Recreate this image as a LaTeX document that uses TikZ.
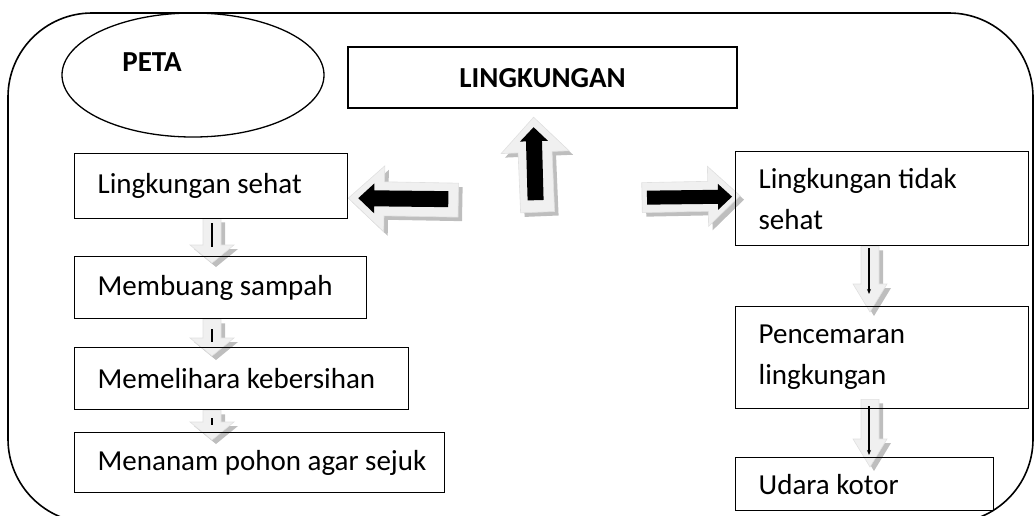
\documentclass[tikz,border=0pt]{standalone}
\usepackage{fontspec}
\setmainfont{Carlito}
\usetikzlibrary{calc,shapes.geometric,arrows.meta,backgrounds}
\definecolor{ink}{HTML}{000000}
\definecolor{glow}{HTML}{F0F0F0}
\definecolor{glowedge}{HTML}{E0E0E0}
\definecolor{shade}{HTML}{BEBEBE}
\tikzset{
  box/.style={draw=ink,line width=1.3pt,anchor=north west,inner xsep=0pt,inner ysep=0pt,text width=#1,align=flush left,font=\fontsize{29}{41}\selectfont},
  headbox/.style={draw=ink,line width=2.2pt,anchor=north west,inner sep=0pt,font=\bfseries\fontsize{29}{35}\selectfont},
  light/.style={fill=glow,draw=glowedge,line width=0.6pt},
  dropshade/.style={fill=shade,transform canvas={xshift=4pt,yshift=-4pt}},
  blackfill/.style={fill=ink},
  stem/.style={draw=ink,line width=1.1pt},
  stemflow/.style={-{Stealth[length=5pt,width=4pt]},draw=ink,line width=1.1pt}
}
\newcommand\pad{\hspace*{23pt}}
% tail, tip, shaft half width, head half width, head length
\newcommand\blockarrow[6]{%
  \coordinate (ba-t) at #2;
  \coordinate (ba-p) at #3;
  \coordinate (ba-n) at ($(ba-p)!#6!(ba-t)$);
  \path[#1] ($(ba-t)!#4!90:(ba-p)$) -- ($(ba-n)!#4!90:(ba-p)$) -- ($(ba-n)!#5!90:(ba-p)$) -- (ba-p)
    -- ($(ba-n)!#5!-90:(ba-p)$) -- ($(ba-n)!#4!-90:(ba-p)$) -- ($(ba-t)!#4!-90:(ba-p)$) -- cycle;
}
\begin{document}
\begin{tikzpicture}[x=1pt,y=-1pt]
  \useasboundingbox (0,0) rectangle (1034,515);
  % frame and title
  \draw[line width=1.6pt,rounded corners=84pt] (8,13) rectangle (1033,523);
  \node[draw=ink,ellipse,line width=1.3pt,inner sep=0pt,minimum width=262pt,minimum height=124pt] (peta) at (193,75) {};
  \node[font=\bfseries\fontsize{29}{35}\selectfont] (petalabel) at (152,62) {PETA};
  \node[headbox,minimum width=389pt,minimum height=61pt] (lingkungan) at (347,46) {LINGKUNGAN};

  % left column
  \node[box=273pt,minimum height=65pt] (sehat) at (74,153) {\pad Lingkungan sehat};
  \node[box=292pt,minimum height=62pt] (sampah) at (74,256) {\pad Membuang sampah};
  \node[box=334pt,minimum height=62pt] (pelihara) at (74,347) {\pad Memelihara kebersihan};
  \node[box=370pt,minimum height=60pt] (pohon) at (74,432) {\pad Menanam pohon agar sejuk};

  % right column
  \node[box=293pt,minimum height=94pt] (tidak) at (735,151) {\pad Lingkungan tidak\\\pad sehat};
  \node[box=293pt,minimum height=102pt] (cemar) at (735,306) {\pad Pencemaran\\\pad lingkungan};
  \node[box=258pt,minimum height=53pt] (udara) at (735,457) {\pad Udara kotor};

  % block arrows
  \begin{pgfonlayer}{background}
    \blockarrow{dropshade}{($(lingkungan.south)+(-5,103)$)}{($(lingkungan.south)+(-9,8)$)}{17pt}{34pt}{35pt}
    \blockarrow{light}{($(lingkungan.south)+(-5,103)$)}{($(lingkungan.south)+(-9,8)$)}{17pt}{34pt}{35pt}
    \blockarrow{dropshade}{($(sehat.east)+(110,14)$)}{($(sehat.east)+(0,12)$)}{17pt}{33pt}{36pt}
    \blockarrow{light}{($(sehat.east)+(110,14)$)}{($(sehat.east)+(0,12)$)}{17pt}{33pt}{36pt}
    \blockarrow{dropshade}{($(tidak.west)+(-93,-1)$)}{($(tidak.west)+(5,-3)$)}{15pt}{30pt}{32pt}
    \blockarrow{light}{($(tidak.west)+(-93,-1)$)}{($(tidak.west)+(5,-3)$)}{15pt}{30pt}{32pt}
    \foreach \from/\to/\a/\b in {sehat/sampah/-1/7, sampah/pelihara/0/9, pelihara/pohon/0/8} {
      \blockarrow{dropshade}{($(\from.south west)+(138,\a)$)}{($(\to.north west)+(138,\b)$)}{9pt}{22pt}{18pt}
      \blockarrow{light}{($(\from.south west)+(138,\a)$)}{($(\to.north west)+(138,\b)$)}{9pt}{22pt}{18pt}
    }
    \foreach \from/\to/\a/\b in {tidak/cemar/0/6, cemar/udara/-10/10} {
      \blockarrow{dropshade}{($(\from.south west)+(135,\a)$)}{($(\to.north west)+(135,\b)$)}{9pt}{17pt}{28pt}
      \blockarrow{light}{($(\from.south west)+(135,\a)$)}{($(\to.north west)+(135,\b)$)}{9pt}{17pt}{28pt}
    }
  \end{pgfonlayer}
  \blockarrow{blackfill}{($(lingkungan.south)+(-7,91)$)}{($(lingkungan.south)+(-9,18)$)}{8pt}{14pt}{14pt}
  \blockarrow{blackfill}{($(sehat.east)+(100,13)$)}{($(sehat.east)+(10,12)$)}{8pt}{15pt}{16pt}
  \blockarrow{blackfill}{($(tidak.west)+(-88,-1)$)}{($(tidak.west)+(-3,-2)$)}{7pt}{13pt}{14pt}

  % thin stems inside the small arrows
  \draw[stem] ($(sehat.south west)+(138,4)$) -- ($(sampah.north west)+(138,-9)$);
  \draw[stem] ($(sampah.south west)+(138,10)$) -- ($(pelihara.north west)+(138,-5)$);
  \draw[stem] ($(pelihara.south west)+(138,8)$) -- ($(pohon.north west)+(138,-7)$);
  \draw[stemflow] ($(tidak.south west)+(134,2)$) -- ($(cemar.north west)+(134,-12)$);
  \draw[stemflow] ($(cemar.south west)+(134,-3)$) -- ($(udara.north west)+(134,-2)$);
\end{tikzpicture}
\end{document}
